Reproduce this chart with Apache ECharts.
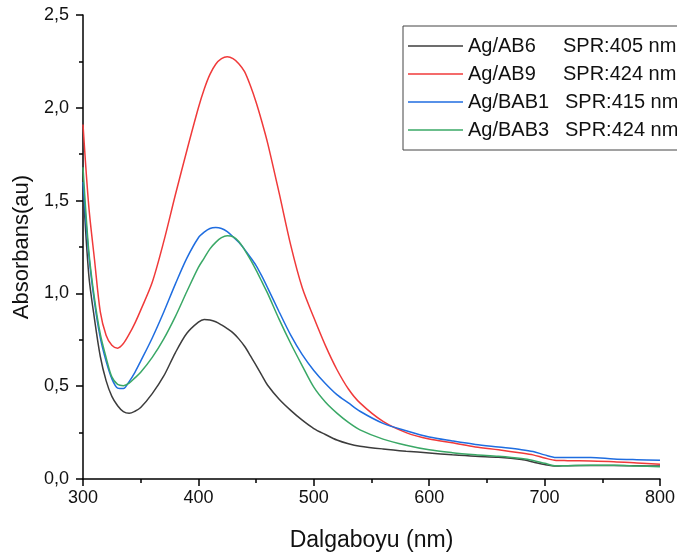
<!DOCTYPE html>
<html>
<head>
<meta charset="utf-8">
<script src="https://cdn.jsdelivr.net/npm/echarts@6/dist/echarts.min.js"></script>
<style>
  html, body { margin: 0; padding: 0; background: #fff; }
  #chart { width: 677px; height: 555px; }
</style>
</head>
<body>
<div id="chart"></div>
<script>
// wavelength (nm)
var wl = [300,305,310,315,320,325,330,335,340,345,350,360,370,380,390,400,405,410,415,420,425,430,435,440,445,450,455,460,470,480,490,500,510,520,530,540,560,580,600,620,640,660,680,690,700,710,720,740,760,780,800];

var ab6 = [1.58,1.10,0.86,0.66,0.53,0.445,0.395,0.363,0.354,0.365,0.385,0.46,0.555,0.68,0.785,0.845,0.86,0.857,0.847,0.83,0.81,0.787,0.755,0.715,0.665,0.612,0.558,0.505,0.43,0.37,0.317,0.272,0.24,0.21,0.19,0.177,0.162,0.15,0.14,0.13,0.122,0.117,0.105,0.092,0.078,0.07,0.072,0.073,0.073,0.071,0.07];
var ab9 = [1.91,1.47,1.18,0.90,0.775,0.72,0.705,0.73,0.78,0.84,0.91,1.06,1.28,1.53,1.77,2.00,2.10,2.18,2.235,2.265,2.275,2.265,2.238,2.195,2.12,2.03,1.925,1.81,1.54,1.26,1.03,0.87,0.72,0.59,0.485,0.41,0.31,0.25,0.215,0.195,0.173,0.157,0.14,0.13,0.113,0.10,0.099,0.097,0.093,0.086,0.079];
var bab1 = [1.60,1.21,0.95,0.76,0.635,0.54,0.49,0.487,0.525,0.575,0.635,0.76,0.90,1.05,1.19,1.30,1.33,1.35,1.355,1.35,1.333,1.305,1.275,1.237,1.195,1.15,1.093,1.03,0.90,0.775,0.67,0.585,0.515,0.455,0.41,0.365,0.30,0.26,0.226,0.205,0.186,0.172,0.158,0.148,0.13,0.116,0.116,0.116,0.108,0.104,0.101];
var bab3 = [1.68,1.23,0.97,0.78,0.655,0.55,0.51,0.503,0.517,0.545,0.575,0.655,0.755,0.875,1.01,1.14,1.19,1.24,1.275,1.30,1.31,1.305,1.28,1.235,1.183,1.125,1.063,1.00,0.86,0.73,0.61,0.495,0.415,0.355,0.305,0.265,0.215,0.182,0.157,0.142,0.131,0.122,0.11,0.10,0.085,0.071,0.072,0.074,0.074,0.07,0.066];

var names = ['Ag/AB6', 'Ag/AB9', 'Ag/BAB1', 'Ag/BAB3'];
var sprLabels = ['SPR:405 nm', 'SPR:424 nm', 'SPR:415 nm', 'SPR:424 nm'];
var colors = ['#3c3c3c', '#f03a3a', '#1f6de0', '#3aa866'];
var xTicks = [300, 400, 500, 600, 700, 800];
var yTicks = [0, 0.5, 1.0, 1.5, 2.0, 2.5];

function pairs(ys) {
  return wl.map(function (x, i) { return [x, ys[i]]; });
}

var allData = [ab6, ab9, bab1, bab3];
var font = 'Liberation Sans, Arial, sans-serif';

var chart = echarts.init(document.getElementById('chart'));
chart.setOption({
  animation: false,
  backgroundColor: '#fff',
  grid: { left: 83, right: 17, top: 15, bottom: 76, outerBoundsMode: 'none', containLabel: false },
  legend: {
    orient: 'vertical',
    left: 403,
    top: 26,
    padding: [10, 12, 10, 5],
    icon: 'rect',
    itemWidth: 55,
    itemHeight: 1.5,
    itemGap: 8,
    borderColor: '#444',
    borderWidth: 1,
    borderRadius: 0,
    data: names,
    formatter: function (n) {
      var i = names.indexOf(n);
      var key = n.indexOf('BAB') >= 0 ? 'c' : 'a';
      return '{' + key + '|' + n + '}{b|' + sprLabels[i] + '}';
    },
    textStyle: {
      fontFamily: font,
      fontSize: 20,
      color: '#111',
      rich: {
        a: { width: 95, fontSize: 20, fontFamily: font, color: '#111', lineHeight: 20 },
        c: { width: 97, fontSize: 20, fontFamily: font, color: '#111', lineHeight: 20 },
        b: { fontSize: 20, fontFamily: font, color: '#111', lineHeight: 20 }
      }
    }
  },
  xAxis: {
    type: 'value',
    min: xTicks[0],
    max: xTicks[xTicks.length - 1],
    interval: 100,
    name: 'Dalgaboyu (nm)',
    nameLocation: 'middle',
    nameGap: 50,
    nameTextStyle: { fontFamily: font, fontSize: 23, color: '#111' },
    axisLine: { lineStyle: { color: '#000', width: 1.5 } },
    axisTick: { show: true, inside: false, length: 7, lineStyle: { color: '#000', width: 1.5 } },
    minorTick: { show: true, splitNumber: 2, length: 4, lineStyle: { color: '#000', width: 1.5 } },
    axisLabel: { fontFamily: font, fontSize: 18, color: '#111', margin: 10 },
    splitLine: { show: false }
  },
  yAxis: {
    type: 'value',
    min: yTicks[0],
    max: yTicks[yTicks.length - 1],
    interval: 0.5,
    name: 'Absorbans(au)',
    nameLocation: 'middle',
    nameGap: 48,
    nameTextStyle: { fontFamily: font, fontSize: 22, color: '#111' },
    axisLine: { show: true, lineStyle: { color: '#000', width: 1.5 } },
    axisTick: { show: true, inside: false, length: 7, lineStyle: { color: '#000', width: 1.5 } },
    minorTick: { show: true, splitNumber: 2, length: 4, lineStyle: { color: '#000', width: 1.5 } },
    axisLabel: {
      fontFamily: font, fontSize: 18, color: '#111', margin: 14,
      formatter: function (v) { return v.toFixed(1).replace('.', ','); }
    },
    splitLine: { show: false }
  },
  series: names.map(function (n, i) {
    return {
      name: n,
      type: 'line',
      data: pairs(allData[i]),
      smooth: 0.3,
      symbol: 'none',
      lineStyle: { color: colors[i], width: 1.5 },
      itemStyle: { color: colors[i] }
    };
  })
});
</script>
</body>
</html>
